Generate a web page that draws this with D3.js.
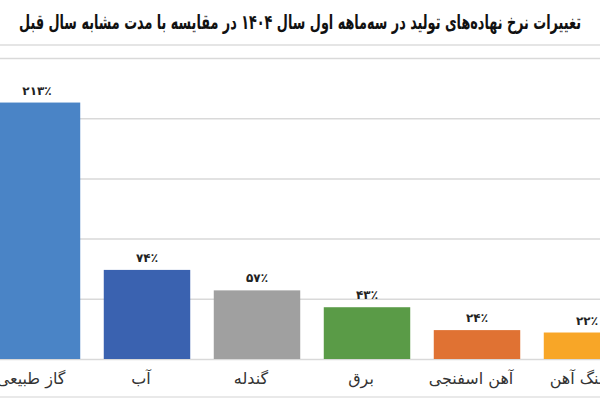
<!DOCTYPE html>
<html>
<head>
<meta charset="utf-8">
<script src="https://cdn.jsdelivr.net/npm/d3@7"></script>
<style>
  html, body { margin: 0; padding: 0; background: #fff; }
  svg { display: block; }
</style>
</head>
<body>
<svg id="chart" width="600" height="400"></svg>
<script>
const titleText = "تغییرات نرخ نهاده‌های تولید در سه‌ماهه اول سال ۱۴۰۴ در مقایسه با مدت مشابه سال قبل";
const categories = ["گاز طبیعی", "آب", "گندله", "برق", "آهن اسفنجی", "سنگ آهن"];
const values = [213, 74, 57, 43, 24, 22];
const valueLabels = ["۲۱۳٪", "۷۴٪", "۵۷٪", "۴۳٪", "۲۴٪", "۲۲٪"];
const colors = ["#4a84c6", "#3a62b0", "#a0a0a0", "#5a9b47", "#e07233", "#f8a627"];
const gridTicks = [0, 50, 100, 150, 200, 250];

const svg = d3.select("#chart");
const W = 600, H = 400;
const fontFa = "'DejaVu Sans', 'Noto Sans', sans-serif";

const x = d3.scaleBand()
  .domain(categories)
  .range([-18, 642])
  .paddingInner(0.214)
  .paddingOuter(0.107);

const y = d3.scaleLinear().domain([0, 250]).range([359, 58]);

// frame lines
svg.append("line").attr("x1", 0).attr("x2", W).attr("y1", 45).attr("y2", 45)
  .attr("stroke", "#dcdcdc").attr("stroke-width", 1.5);
svg.append("line").attr("x1", 0).attr("x2", W).attr("y1", 397).attr("y2", 397)
  .attr("stroke", "#e2e2e2").attr("stroke-width", 1.5);

// gridlines via axis
const grid = svg.append("g")
  .call(d3.axisLeft(y).tickValues(gridTicks).tickSize(-W).tickFormat(""));
grid.select(".domain").remove();
grid.selectAll(".tick line").attr("stroke", "#d9d9d9").attr("stroke-width", 1.5);

// bars
svg.append("g").selectAll("rect")
  .data(categories)
  .join("rect")
  .attr("x", d => x(d))
  .attr("width", x.bandwidth())
  .attr("y", (d, i) => y(values[i]))
  .attr("height", (d, i) => y(0) - y(values[i]))
  .attr("fill", (d, i) => colors[i]);

// value labels
svg.append("g").selectAll("text")
  .data(categories)
  .join("text")
  .attr("x", d => x(d) + x.bandwidth() / 2)
  .attr("y", (d, i) => y(values[i]) - 8)
  .attr("text-anchor", "middle")
  .attr("font-family", fontFa)
  .attr("font-weight", "bold")
  .attr("font-size", 12)
  .attr("fill", "#222")
  .text((d, i) => valueLabels[i]);

// category labels
svg.append("g").selectAll("text")
  .data(categories)
  .join("text")
  .attr("x", d => x(d) + x.bandwidth() / 2 - 6)
  .attr("y", 384)
  .attr("text-anchor", "middle")
  .attr("font-family", fontFa)
  .attr("font-size", 16)
  .attr("fill", "#333")
  .text(d => d);

// title
svg.append("text")
  .attr("x", 300)
  .attr("y", 29)
  .attr("text-anchor", "middle")
  .attr("direction", "rtl")
  .attr("font-family", fontFa)
  .attr("font-weight", "bold")
  .attr("font-size", 20)
  .attr("textLength", 562)
  .attr("lengthAdjust", "spacingAndGlyphs")
  .attr("fill", "#111")
  .text(titleText);
</script>
</body>
</html>
